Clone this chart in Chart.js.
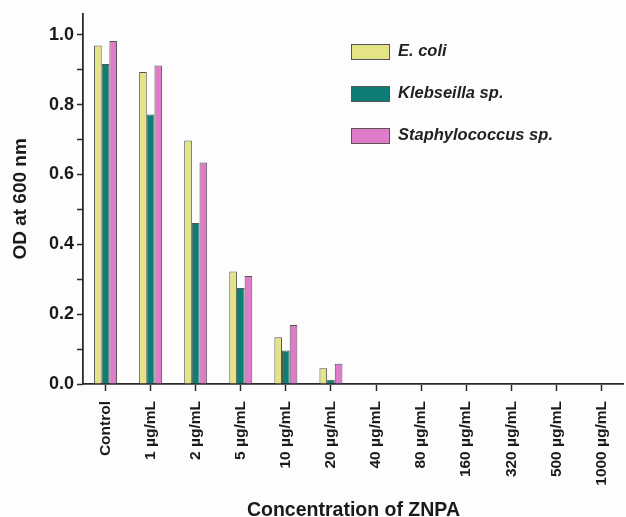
<!DOCTYPE html>
<html>
<head>
<meta charset="utf-8">
<script src="https://cdn.jsdelivr.net/npm/chart.js@4.4.1/dist/chart.umd.min.js"></script>
<style>
  html, body { margin:0; padding:0; background:#fdfdfd; overflow:hidden; }
  #wrap { position:relative; width:626px; height:517px; overflow:hidden; }
  #c { position:absolute; left:0; top:0; }
  #leg { position:absolute; left:351px; top:44px; font:italic bold 16.5px "Liberation Sans", Arial, sans-serif; color:#222; }
  .li { position:relative; height:42px; }
  .sw { position:absolute; left:0; top:0; width:37px; height:14px; border:1px solid #555; }
  .lt { position:absolute; left:47px; top:-3px; white-space:nowrap; }
</style>
</head>
<body>
<div id="wrap">
  <canvas id="c" width="630" height="517"></canvas>
  <div id="leg"></div>
</div>
<script>
// ── DATA ──────────────────────────────────────────────────────────────────────
const CATEGORIES = ['Control','1 µg/mL','2 µg/mL','5 µg/mL','10 µg/mL','20 µg/mL',
                    '40 µg/mL','80 µg/mL','160 µg/mL','320 µg/mL','500 µg/mL','1000 µg/mL'];
const ECOLI  = [0.969, 0.893, 0.697, 0.322, 0.134, 0.045, 0, 0, 0, 0, 0, 0];
const KLEB   = [0.916, 0.772, 0.461, 0.275, 0.096, 0.012, 0, 0, 0, 0, 0, 0];
const STAPH  = [0.982, 0.912, 0.634, 0.309, 0.169, 0.058, 0, 0, 0, 0, 0, 0];
const SERIES = ['E. coli', 'Klebseilla sp.', 'Staphylococcus sp.'];
const COLORS = ['#e4e486', '#0c7e76', '#e07bc9'];

// ── LEGEND (html, sits inside plot) ───────────────────────────────────────────
document.getElementById('leg').innerHTML = SERIES.map((s, i) =>
  `<div class="li"><div class="sw" style="background:${COLORS[i]}"></div><div class="lt">${s}</div></div>`
).join('');

// ── CHART ─────────────────────────────────────────────────────────────────────
const AX = '#2a2a2a';
const FONT = '"Liberation Sans", Arial, sans-serif';

new Chart(document.getElementById('c'), {
  type: 'bar',
  data: {
    labels: CATEGORIES,
    datasets: [ECOLI, KLEB, STAPH].map((d, i) => ({
      label: SERIES[i], data: d,
      backgroundColor: COLORS[i], borderColor: '#555', borderWidth: 1,
      borderSkipped: 'start',
      barPercentage: 1, categoryPercentage: 0.51
    }))
  },
  options: {
    responsive: false, devicePixelRatio: 1, animation: false,
    layout: { padding: { top: 12, right: 0, bottom: 0, left: 0 } },
    plugins: { legend: { display: false }, tooltip: { enabled: false } },
    scales: {
      x: {
        offset: true,
        afterFit: s => { s.height = 133; },
        grid: { display: true, offset: false, drawOnChartArea: false, drawTicks: true,
                tickLength: 7, tickWidth: 1.5, tickColor: AX },
        border: { display: true, color: AX, width: 1.8 },
        ticks: { color: '#1a1a1a', maxRotation: 90, minRotation: 90, padding: 10, autoSkip: false,
                 font: { family: FONT, size: 15.5, weight: 'bold' } },
        title: { display: true, text: 'Concentration of ZNPA', color: '#1a1a1a',
                 font: { family: FONT, size: 19.5, weight: 'bold' }, padding: { top: 0, bottom: -5 } }
      },
      y: {
        min: 0, max: 1.06,
        afterFit: s => { s.width = 83; },
        afterBuildTicks: s => {
          s.ticks = s.ticks.filter(t => Math.abs(t.value * 10 - Math.round(t.value * 10)) < 1e-6);
        },
        grid: { display: true, drawOnChartArea: false, drawTicks: true,
                tickLength: 6, tickWidth: 1.5, tickColor: AX },
        border: { display: true, color: AX, width: 1.8 },
        ticks: {
          stepSize: 0.1, color: '#1a1a1a', padding: 3,
          font: { family: FONT, size: 18, weight: 'bold' },
          callback: v => (Math.round(v * 10) % 2 === 0) ? v.toFixed(1) : ''
        },
        title: { display: true, text: 'OD at 600 nm', color: '#1a1a1a',
                 font: { family: FONT, size: 19, weight: 'bold' }, padding: { top: 9, bottom: 0 } }
      }
    }
  }
});
</script>
</body>
</html>
